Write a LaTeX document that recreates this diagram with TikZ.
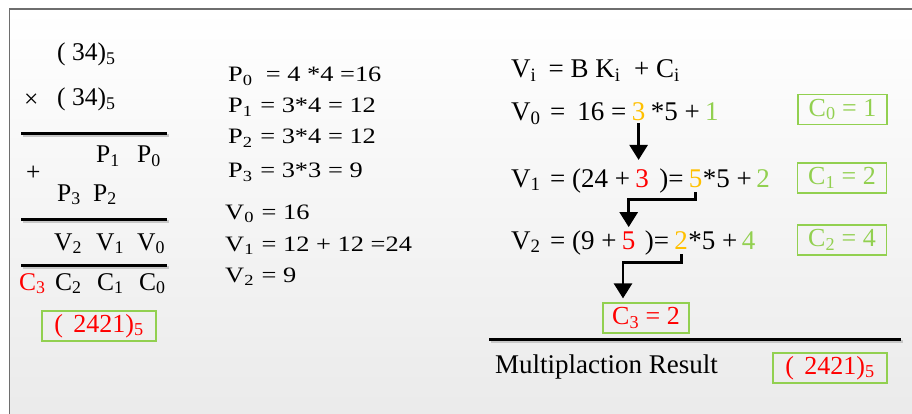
\documentclass[tikz,border=0pt]{standalone}
\usepackage{fontspec}
\setmainfont{Liberation Serif}
\newfontfamily\midfont[FakeStretch=1.2]{Liberation Serif}
\usepackage{xcolor}
\usepackage{tikz}
\usetikzlibrary{positioning, arrows.meta, calc}
\definecolor{cgreen}{HTML}{92D050}
\definecolor{corange}{HTML}{FFC000}
\definecolor{frame}{HTML}{6E6E6E}
\newcommand\sbs[1]{\textsubscript{#1}}
\tikzset{
  lft/.style     = {font=\fontsize{25.5}{29}\selectfont, inner sep=0pt, anchor=base west},
  mid/.style     = {font=\midfont\fontsize{22}{26}\selectfont, inner sep=0pt, anchor=base west},
  rgt/.style     = {font=\fontsize{27}{31}\selectfont, inner sep=0pt, anchor=base west},
  gbox/.style    = {rectangle, draw=cgreen, line width=1.2pt, minimum width=89pt,
                    minimum height=30pt, inner sep=2pt, font=\fontsize{26}{30}\selectfont},
  bar/.style     = {line width=3pt, black},
  barshade/.style= {line width=3pt, black!22},
  arr/.style     = {-{Triangle[length=15pt,width=18pt]}, line width=2.7pt, black},
}
\begin{document}
\begin{tikzpicture}[x=1pt, y=-1pt]

  \useasboundingbox (0,0) rectangle (912,414);
  \fill[white] (0,0) rectangle (912,414);
  \shade[top color=white, bottom color=black!8] (9.5,9) rectangle (912,414);
  \draw[frame, line width=1.3pt] (9.5,414) -- (9.5,9) -- (912,9);

  % LEFT: long multiplication
  \node[lft] (a1) at (57,61) {( 34)\sbs{5}};
  \node[lft] (mul) at (24,108) {×};
  \node[lft] (a2) at (57,106) {( 34)\sbs{5}};
  \draw[barshade] (22.5,136) -- (168.5,136);
  \draw[bar] (21,134) -- (167,134);

  \node[lft] (lp1) at (96,163) {P\sbs{1}};
  \node[lft] (lp0) at (137,163) {P\sbs{0}};
  \node[lft] (add) at (26,180) {+};
  \node[lft] (lp3) at (57,201) {P\sbs{3}};
  \node[lft] (lp2) at (93,201) {P\sbs{2}};
  \draw[barshade] (22.5,221) -- (168.5,221);
  \draw[bar] (21,219) -- (167,219);

  \node[lft] (lv2) at (54,250) {V\sbs{2}};
  \node[lft] (lv1) at (96,250) {V\sbs{1}};
  \node[lft] (lv0) at (137,250) {V\sbs{0}};
  \draw[barshade] (22.5,267) -- (168.5,267);
  \draw[bar] (21,265) -- (167,265);

  \node[lft, text=red] (lc3) at (19,290) {C\sbs{3}};
  \node[lft] (lc2) at (55,290) {C\sbs{2}};
  \node[lft] (lc1) at (97,290) {C\sbs{1}};
  \node[lft] (lc0) at (139,290) {C\sbs{0}};
  \node[gbox, text=red, minimum width=114pt] (lres) at (99,326) {(\hspace{0.4em}2421)\sbs{5}};

  % MIDDLE: partial products
  \node[mid] (p0) at (228,82) {P\sbs{0}\hspace{0.6em}= 4 *4 =16};
  \node[mid] (p1) at (228,113) {P\sbs{1}\hspace{0.35em}= 3*4 = 12};
  \node[mid] (p2) at (228,144) {P\sbs{2}\hspace{0.35em}= 3*4 = 12};
  \node[mid] (p3) at (228,178) {P\sbs{3}\hspace{0.35em}= 3*3 = 9};
  \node[mid] (mv0) at (225,219) {V\sbs{0}\hspace{0.35em}= 16};
  \node[mid] (mv1) at (225,251) {V\sbs{1}\hspace{0.35em}= 12 + 12 =24};
  \node[mid] (mv2) at (225,282) {V\sbs{2}\hspace{0.35em}= 9};

  % RIGHT: carries
  \node[rgt] (vi) at (511,78) {V\sbs{i}\hspace{0.45em}= B K\sbs{i}\hspace{0.5em}+ C\sbs{i}};

  \node[rgt] (v0a) at (511,121) {V\sbs{0}\hspace{0.35em}=\hspace{0.45em}16 =};
  \node[rgt, text=corange] (v0k) at ([xshift=5pt]v0a.base east) {3};
  \node[rgt] (v0b) at ([xshift=5pt]v0k.base east) {*5 +};
  \node[rgt, text=cgreen] (v0c) at ([xshift=5pt]v0b.base east) {1};
  \node[gbox, text=cgreen] (c0) at (842.5,109.5) {C\sbs{0} = 1};

  \node[rgt] (v1a) at (511,187) {V\sbs{1}\hspace{0.35em}= (24 +};
  \node[rgt, text=red] (v1k) at ([xshift=5pt]v1a.base east) {3};
  \node[rgt] (v1b) at ([xshift=10pt]v1k.base east) {)=};
  \node[rgt, text=corange] (v1m) at ([xshift=5pt]v1b.base east) {5};
  \node[rgt] (v1c) at (v1m.base east) {*5 +};
  \node[rgt, text=cgreen] (v1d) at ([xshift=4pt]v1c.base east) {2};
  \node[gbox, text=cgreen] (c1) at (842,178) {C\sbs{1} = 2};

  \node[rgt] (v2a) at (511,249) {V\sbs{2}\hspace{0.35em}= (9 +};
  \node[rgt, text=red] (v2k) at ([xshift=5pt]v2a.base east) {5};
  \node[rgt] (v2b) at ([xshift=9pt]v2k.base east) {)=};
  \node[rgt, text=corange] (v2m) at ([xshift=5pt]v2b.base east) {2};
  \node[rgt] (v2c) at (v2m.base east) {*5 +};
  \node[rgt, text=cgreen] (v2d) at ([xshift=4pt]v2c.base east) {4};
  \node[gbox, text=cgreen] (c2) at (842,240) {C\sbs{2} = 4};

  \node[gbox, text=red, minimum width=86pt] (c3) at (646,318) {C\sbs{3} = 2};

  \draw[arr, shorten <=2pt, shorten >=9pt] (v0k.south) -- (v0k.south |- v1k.north);
  \draw[arr, shorten <=5pt, shorten >=4pt] (v1m.south) -- ++(0,12) -| (v2k.north);
  \draw[arr, shorten <=5pt, shorten >=4pt] (v2m.south) -- ++(0,13) -| ([xshift=-23pt]c3.north);

  \draw[barshade] (490.5,341) -- (902.5,341);
  \draw[bar] (489,339) -- (901,339);
  \node[rgt] (res) at (495,373) {Multiplaction Result};
  \node[gbox, text=red, minimum width=114pt] (rres) at (830,368) {(\hspace{0.4em}2421)\sbs{5}};

\end{tikzpicture}
\end{document}
